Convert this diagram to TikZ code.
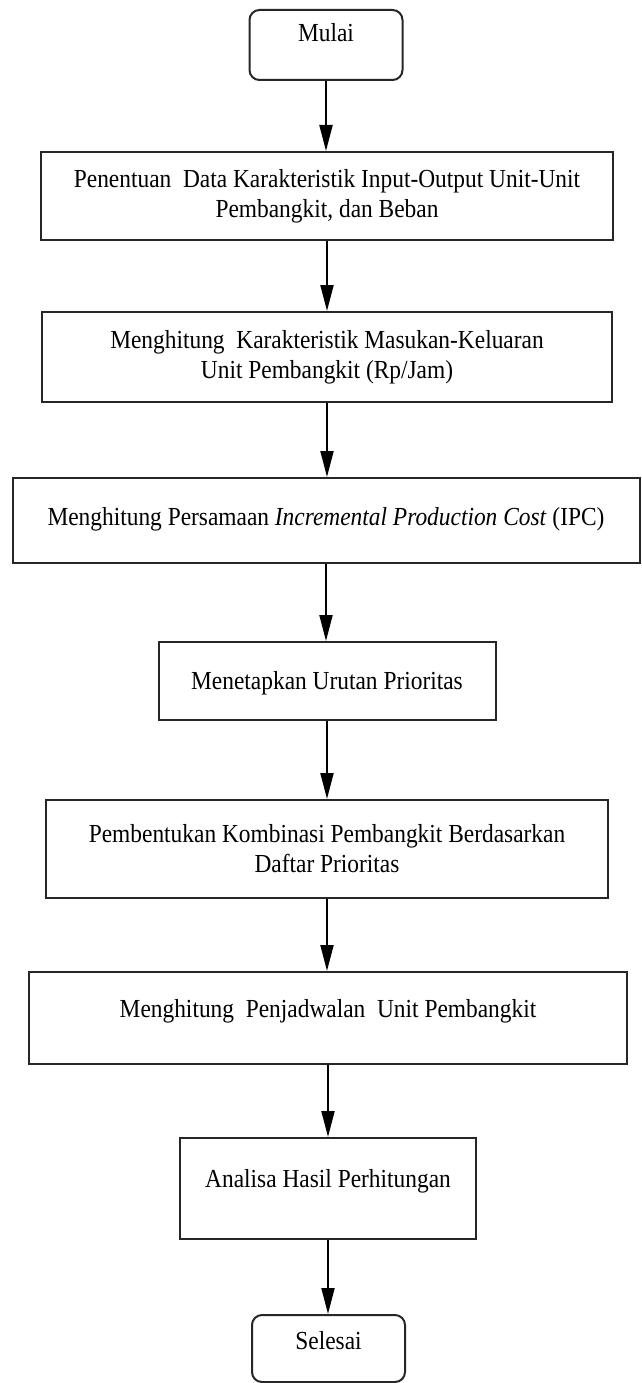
\documentclass[tikz,border=0pt]{standalone}
\usepackage{fontspec}
\setmainfont{Liberation Serif}[FakeStretch=0.9]
\usetikzlibrary{arrows.meta}
\begin{document}
\begin{tikzpicture}[x=1pt,y=-1pt,
  every node/.style={font=\fontsize{26}{30}\selectfont},
  boxbase/.style={draw=black!85, line width=2pt, align=center, inner sep=0pt, fill=white},
  procbox/.style={boxbase},
  termbox/.style={boxbase, rounded corners=10pt},
  arr/.style={draw=black, line width=2pt, -{Triangle[length=26pt,width=13pt]}}
]
\useasboundingbox (0,0) rectangle (642,1383);
\fill[white] (0,0) rectangle (642,1383);

\node[termbox, minimum width=153pt, minimum height=70pt] (mulai) at (326,45)
  {\raisebox{3pt}[0pt][0pt]{Mulai}};
\node[procbox, minimum width=572pt, minimum height=88pt] (b1) at (327,196)
  {Penentuan\ \ Data Karakteristik Input-Output Unit-Unit\\ Pembangkit, dan Beban};
\node[procbox, minimum width=570pt, minimum height=90pt] (b2) at (327,357)
  {Menghitung\ \ Karakteristik Masukan-Keluaran\\ Unit Pembangkit (Rp/Jam)};
\node[procbox, minimum width=627pt, minimum height=85pt] (b3) at (326,520.5)
  {\raisebox{-4.5pt}[0pt][0pt]{Menghitung Persamaan \textit{Incremental Production Cost} (IPC)}};
\node[procbox, minimum width=337pt, minimum height=78pt] (b4) at (327,681)
  {\raisebox{-8pt}[0pt][0pt]{Menetapkan Urutan Prioritas}};
\node[procbox, minimum width=562pt, minimum height=98pt] (b5) at (327,849)
  {Pembentukan Kombinasi Pembangkit Berdasarkan\\ Daftar Prioritas};
\node[procbox, minimum width=598pt, minimum height=92pt] (b6) at (328,1018)
  {\raisebox{1pt}[0pt][0pt]{Menghitung\ \ Penjadwalan\ \ Unit Pembangkit}};
\node[procbox, minimum width=296pt, minimum height=101pt] (b7) at (328,1188.5)
  {\raisebox{1.5pt}[0pt][0pt]{Analisa Hasil Perhitungan}};
\node[termbox, minimum width=153pt, minimum height=67pt] (selesai) at (328.5,1348.5)
  {\raisebox{-1pt}[0pt][0pt]{Selesai}};

\draw[arr] (mulai.south) -- (mulai.south |- b1.north);
\draw[arr] (b1.south) -- (b1.south |- b2.north);
\draw[arr] (b2.south) -- (b2.south |- b3.north);
\draw[arr] (b3.south) -- (b3.south |- b4.north);
\draw[arr] (b4.south) -- (b4.south |- b5.north);
\draw[arr] (b5.south) -- (b5.south |- b6.north);
\draw[arr] (b6.south) -- (b6.south |- b7.north);
\draw[arr] (b7.south) -- (b7.south |- selesai.north);
\end{tikzpicture}
\end{document}
